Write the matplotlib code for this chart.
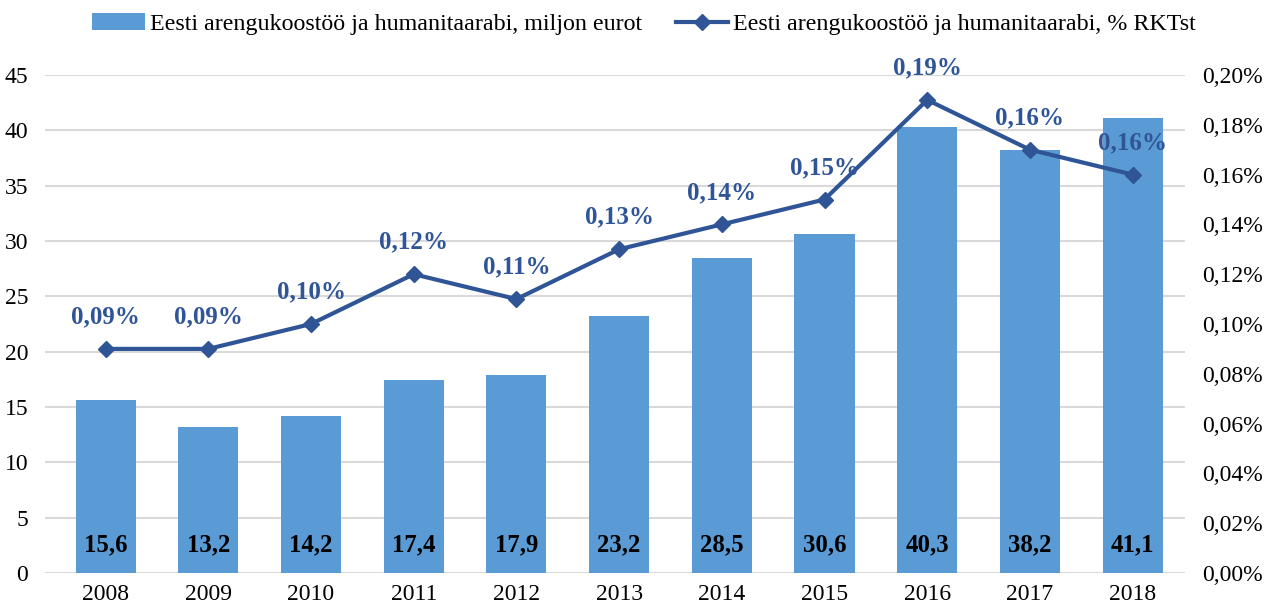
import matplotlib
matplotlib.use("Agg")
import matplotlib.pyplot as plt
from matplotlib.ticker import FuncFormatter, MultipleLocator
from matplotlib.lines import Line2D
from matplotlib.patches import Patch

years = ["2008", "2009", "2010", "2011", "2012", "2013", "2014", "2015", "2016", "2017", "2018"]
million_eur = [15.6, 13.2, 14.2, 17.4, 17.9, 23.2, 28.5, 30.6, 40.3, 38.2, 41.1]
pct_gni = [0.09, 0.09, 0.10, 0.12, 0.11, 0.13, 0.14, 0.15, 0.19, 0.17, 0.16]
pct_labels = ["0,09%", "0,09%", "0,10%", "0,12%", "0,11%", "0,13%", "0,14%", "0,15%", "0,19%", "0,16%", "0,16%"]
bar_name = "Eesti arengukoostöö ja humanitaarabi, miljon eurot"
line_name = "Eesti arengukoostöö ja humanitaarabi, % RKTst"

plt.rcParams['font.family'] = ['Liberation Serif', 'DejaVu Serif']

BAR_C = "#5B9BD5"
LINE_C = "#2F5597"
GRID_C = "#D9D9D9"
FS = 17

fig = plt.figure(figsize=(12.66, 6.12), dpi=100)
ax = fig.add_axes([45/1266, 1-573/612, (1185-45)/1266, (573-75)/612])
x = list(range(len(years)))
ax.bar(x, million_eur, width=0.585, color=BAR_C, zorder=2)
ax.set_ylim(0, 45)
ax.yaxis.set_major_locator(MultipleLocator(5))
ax.set_xlim(-0.59, 10.51)
ax.set_xticks(x)
ax.set_xticklabels(years)
ax.grid(axis='y', color=GRID_C, linewidth=1.5, zorder=0)
ax.set_axisbelow(True)
for s in ax.spines.values():
    s.set_visible(False)
ax.tick_params(axis='both', length=0, labelsize=FS)
ax.tick_params(axis='x', pad=8)
ax.tick_params(axis='y', pad=12)
for xi, v in zip(x, million_eur):
    ax.annotate(f"{v:.1f}".replace(".", ","), (xi, 0), xytext=(0, 28), textcoords='offset pixels',
                ha='center', va='center', fontsize=17.8, fontweight='bold', color='black', zorder=4)

ax2 = ax.twinx()
ax2.set_ylim(0, 0.20)
ax2.yaxis.set_major_locator(MultipleLocator(0.02))
ax2.yaxis.set_major_formatter(FuncFormatter(lambda v, p: f"{v:.2f}".replace(".", ",") + "%"))
for s in ax2.spines.values():
    s.set_visible(False)
ax2.tick_params(axis='y', length=0, labelsize=FS, pad=12)
ax2.plot(x, pct_gni, color=LINE_C, linewidth=3, marker='D', markersize=8, zorder=3)
for xi, v, lab in zip(x, pct_gni, pct_labels):
    ax2.annotate(lab, (xi, v), xytext=(0, 32), textcoords='offset pixels',
                 ha='center', va='center', fontsize=18, fontweight='bold', color=LINE_C)

handles = [Patch(facecolor=BAR_C, edgecolor='none'),
           Line2D([0], [0], color=LINE_C, linewidth=3, marker='D', markersize=8)]
fig.legend(handles, [bar_name, line_name], loc='center', bbox_to_anchor=(644/1266, 1-24/612),
           ncol=2, frameon=False, fontsize=17.3, handlelength=2.2, handletextpad=0.2, columnspacing=1.4)

fig.savefig("out.png", dpi=100)
